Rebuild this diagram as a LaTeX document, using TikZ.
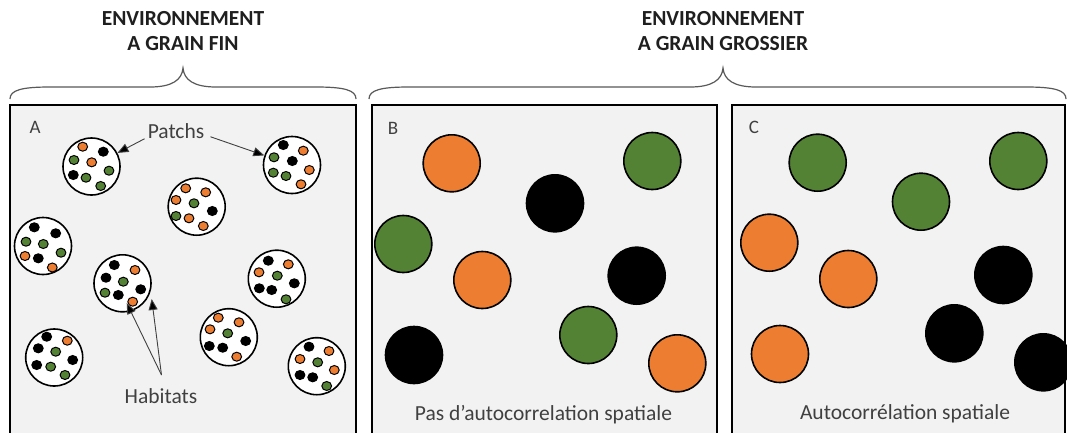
\documentclass[tikz,border=0pt]{standalone}
\usepackage{fontspec}
\setmainfont{Carlito}
\usetikzlibrary{arrows.meta}
\definecolor{orng}{HTML}{ED7D31}
\definecolor{grn}{HTML}{548235}
\definecolor{blk}{HTML}{000000}
\definecolor{panelbg}{HTML}{F2F2F2}
\definecolor{txt}{HTML}{404040}
\definecolor{brc}{HTML}{595959}
\tikzset{
  panel/.style={draw=black, line width=2pt, fill=panelbg},
  patch/.style={circle, draw=black, line width=1.6pt, fill=white, minimum size=57pt, inner sep=0pt},
  dot/.style={draw=black, line width=1pt, fill=#1},
  big/.style={circle, draw=black, line width=1.6pt, fill=#1, minimum size=57pt, inner sep=0pt},
  hdr/.style={font=\fontsize{21.5}{25}\selectfont\bfseries, text=black!88, inner sep=0pt},
  lbl/.style={font=\fontsize{21.5}{25}\selectfont, text=txt, inner sep=0pt},
  letter/.style={font=\fontsize{19}{22}\selectfont, text=txt, inner sep=0pt},
  arr/.style={draw=txt, line width=0.9pt, -{Triangle[length=11pt,width=9pt,fill=black]}},
  bracestyle/.style={draw=brc, line width=1.2pt}
}
\begin{document}
\begin{tikzpicture}[x=1pt,y=-1pt]
\useasboundingbox (0,0) rectangle (1067,432);
\clip (0,0) rectangle (1067,432);
\fill[white] (0,0) rectangle (1067,432);

% headers
\node[hdr, anchor=base] (hA1) at (183,25) {ENVIRONNEMENT};
\node[hdr, anchor=base] (hA2) at (183,50) {A GRAIN FIN};
\node[hdr, anchor=base] (hB1) at (723,25) {ENVIRONNEMENT};
\node[hdr, anchor=base] (hB2) at (723,50) {A GRAIN GROSSIER};

% braces
\draw[bracestyle] (10,99) .. controls (10,90) and (22,87) .. (50,87) -- (150,87)
  .. controls (172,87) and (182,80) .. (183,68) .. controls (184,80) and (194,87) .. (216,87)
  -- (316,87) .. controls (344,87) and (356,90) .. (356,99);
\draw[bracestyle] (369,99) .. controls (369,90) and (381,87) .. (409,87) -- (690,87)
  .. controls (712,87) and (722,80) .. (723,68) .. controls (724,80) and (734,87) .. (756,87)
  -- (1026,87) .. controls (1054,87) and (1066,90) .. (1066,99);

% panels
\draw[panel] (10,105) rectangle (356,445);
\draw[panel] (372,105) rectangle (717,445);
\draw[panel] (732,105) rectangle (1065,445);

\node[letter] (lA) at (35,127) {A};
\node[letter] (lB) at (393,128) {B};
\node[letter] (lC) at (754,127) {C};

% panel A patches
\node[patch] (p1) at (91.5,166.5) {};
\node[patch] (p2) at (292,165) {};
\node[patch] (p3) at (196.7,206.7) {};
\node[patch] (p4) at (43,246) {};
\node[patch] (p5) at (122.5,283.3) {};
\node[patch] (p6) at (276.8,278.7) {};
\node[patch] (p7) at (228.8,337.2) {};
\node[patch] (p8) at (54.2,357.5) {};
\node[patch] (p9) at (316.8,366.2) {};

\foreach \x/\y/\c in {
 82.7/146.7/orng, 103.3/151.7/blk, 74/160/grn, 91.7/162.3/orng, 109/170.7/grn, 73.3/175/blk, 86/177.7/grn, 100.7/186/grn,
 283.3/145/blk, 303.3/150.7/orng, 274/157.3/grn, 292.3/161/blk, 309.3/170/orng, 273.3/172.7/grn, 286/176/grn, 301/184.3/orng,
 185.7/188.3/orng, 205.7/192.3/orng, 176/200/orng, 194/203.3/grn, 212.3/211/blk, 176/216/grn, 189/218.3/orng, 203.3/226/orng,
 34.3/227.3/blk, 55.7/233.3/blk, 26/241.7/grn, 43.3/244/grn, 61/252.7/grn, 25/256/orng, 38.3/258.3/blk, 52.3/267.5/orng,
 114.3/265/blk, 135/270/orng, 106/277.7/blk, 123.3/281.7/grn, 140.7/289.3/blk, 105/292.7/grn, 118.3/295/blk, 132.7/301.7/orng,
 268.3/260.7/blk, 288.3/264.3/orng, 259/272.3/orng, 277.3/275.7/grn, 294.3/283.3/blk, 259.3/288.3/blk, 271.7/290/blk, 286/299.3/grn,
 218.3/317.7/orng, 239/322.3/orng, 210/329.3/orng, 227.7/333.3/grn, 245.7/341/blk, 209.3/346/blk, 222.7/347.7/blk, 236.7/356.7/orng,
 46.7/336.7/blk, 67.3/340.7/orng, 38.3/348.3/blk, 55.7/351.7/grn, 72.7/360/blk, 36.7/365/blk, 50.7/366.7/grn, 65/375/grn,
 309/346.7/blk, 329/351/orng, 300/359/orng, 317.7/362.3/grn, 334.3/370/orng, 300/375/blk, 312.7/377.3/blk, 326.7/386/grn}
 \draw[dot=\c] (\x,\y) ellipse (4.9 and 4.5);

% labels and arrows in A
\node[lbl] (patchs) at (176,131) {Patchs};
\node[lbl] (habitats) at (161,396) {Habitats};
\coordinate (h1) at (126.7,303);
\coordinate (h2) at (151.7,299);
\coordinate (hs) at (161.5,375);
\draw[arr] (patchs.south west) ++(-3,0) coordinate (ps1) -- (p1);
\draw[arr] (patchs.south east) ++(6,-2) coordinate (ps2) -- (p2);
\draw[arr] (hs) -- (h1);
\draw[arr] (hs) -- (h2);

% panel B
\node[big=orng] (b1) at (451.7,163.3) {};
\node[big=grn]  (b2) at (652.3,161) {};
\node[big=blk]  (b3) at (555,203.3) {};
\node[big=grn]  (b4) at (403.3,244) {};
\node[big=orng] (b5) at (482.3,280) {};
\node[big=blk]  (b6) at (636.7,275.7) {};
\node[big=grn]  (b7) at (588.3,335) {};
\node[big=blk]  (b8) at (414,355) {};
\node[big=orng] (b9) at (677.3,363.3) {};
\node[lbl] (tB) at (543.5,415) {Pas d’autocorrelation spatiale};

% panel C
\node[big=grn]  (c1) at (817.7,162.7) {};
\node[big=grn]  (c2) at (1018.3,161) {};
\node[big=grn]  (c3) at (921,201.7) {};
\node[big=orng] (c4) at (769.3,242.7) {};
\node[big=orng] (c5) at (848.3,279) {};
\node[big=blk]  (c6) at (1003.3,275) {};
\node[big=blk]  (c7) at (954.3,333.3) {};
\node[big=orng] (c8) at (780,354) {};
\node[big=blk]  (c9) at (1043.3,362.3) {};
\node[lbl] (tC) at (905,414) {Autocorrélation spatiale};
\end{tikzpicture}
\end{document}
